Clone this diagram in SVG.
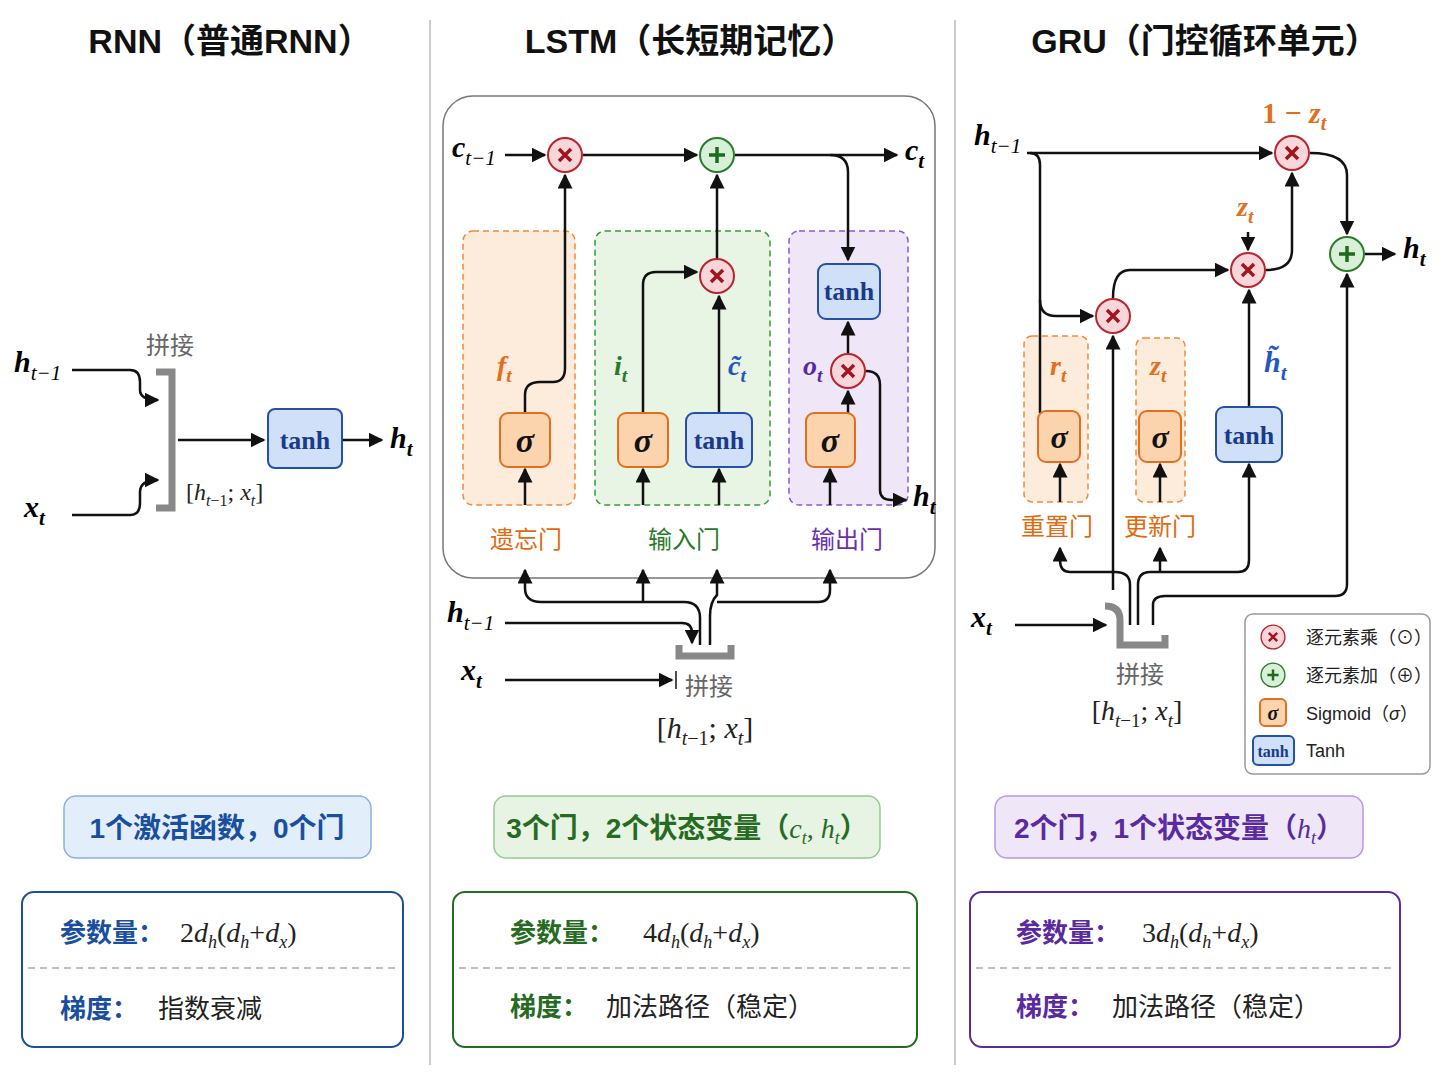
<svg xmlns="http://www.w3.org/2000/svg" width="1448" height="1086" viewBox="0 0 1448 1086">
<defs>
<marker id="ah" viewBox="0 0 10 10" refX="9" refY="5" markerWidth="6" markerHeight="6" orient="auto-start-reverse"><path d="M0,0 L10,5 L0,10 z" fill="#111"/></marker>
<g id="mul"><circle r="17" fill="#f9d6da" stroke="#b8252e" stroke-width="2"/><path d="M-6,-6 L6,6 M6,-6 L-6,6" stroke="#a0151e" stroke-width="3.5"/></g>
<g id="add"><circle r="17" fill="#d9f0d8" stroke="#2b7d2b" stroke-width="2"/><path d="M-8,0 L8,0 M0,-8 L0,8" stroke="#1d6b1d" stroke-width="3.5"/></g>
</defs>
<style>
.t{font-family:"Liberation Sans","Noto Sans CJK SC",sans-serif}
.title{font-family:"Liberation Sans","Noto Sans CJK SC",sans-serif;font-weight:bold;font-size:34px;fill:#111;text-anchor:middle}
.m{font-family:"Liberation Serif",serif;font-style:italic;font-weight:bold}
.ln{fill:none;stroke:#111;stroke-width:2.5}
.arr{fill:none;stroke:#111;stroke-width:2.5;marker-end:url(#ah)}
.sig{fill:#fbd3ac;stroke:#e07020;stroke-width:2}
.th{fill:#cfe0f8;stroke:#2450a8;stroke-width:2}
.bt{font-family:"Liberation Serif",serif;font-weight:bold;fill:#111;text-anchor:middle}
.gr{fill:none;stroke:#888;stroke-width:7}
.cn{font-family:"Noto Sans CJK SC",sans-serif;font-size:24px;text-anchor:middle}
.sub{font-size:70%}
.dO{fill:#fdebdc;stroke:#f08a3a;stroke-width:1.5;stroke-dasharray:6 4}
</style>
<rect width="1448" height="1086" fill="#fff"/>
<line x1="430" y1="20" x2="430" y2="1065" stroke="#bbb" stroke-width="1.5"/>
<line x1="955" y1="20" x2="955" y2="1065" stroke="#bbb" stroke-width="1.5"/>
<text class="title" x="230" y="53">RNN（普通RNN）</text>
<text class="title" x="690" y="53">LSTM（长短期记忆）</text>
<text class="title" x="1205" y="53">GRU（门控循环单元）</text>

<g id="lstm-frame"><rect x="443" y="96" width="492" height="482" rx="30" fill="none" stroke="#777" stroke-width="1.5"/></g>
<g id="gate-areas">
<rect class="dO" x="463" y="231" width="112" height="274" rx="10"/>
<rect x="595" y="231" width="175" height="274" rx="10" fill="#e8f4e4" stroke="#3a9a3a" stroke-width="1.5" stroke-dasharray="6 4"/>
<rect x="789" y="231" width="119" height="274" rx="10" fill="#efe7f8" stroke="#8a5ad0" stroke-width="1.5" stroke-dasharray="6 4"/>
<rect class="dO" x="1024" y="336" width="64" height="166" rx="8"/>
<rect class="dO" x="1136" y="338" width="49" height="164" rx="8"/>
</g>

<g id="connectors">
<path class="arr" d="M72,370 L130,370 Q140,370 140,382 L140,390 Q140,400 158,400"/>
<path class="arr" d="M72,515 L130,515 Q140,515 140,503 L140,492 Q140,480 158,480"/>
<path class="arr" d="M178,440 L264,440"/>
<path class="arr" d="M342,440 L382,440"/>
<path class="arr" d="M505,155 L545,155"/>
<path class="arr" d="M583,155 L697,155"/>
<path class="arr" d="M735,155 L897,155"/>
<path class="arr" d="M830,155 Q848,155 848,172 L848,260"/>
<path class="arr" d="M525,413 L525,395 Q525,382 540,382 L553,382 Q565,382 565,368 L565,175"/>
<path class="arr" d="M643,413 L643,285 Q643,272 656,272 L697,272"/>
<path class="arr" d="M719,413 L719,296"/>
<path class="arr" d="M717,258 L717,175"/>
<path class="arr" d="M848,413 L848,391"/>
<path class="arr" d="M848,354 L848,322"/>
<path class="arr" d="M866,371 Q880,371 880,385 L880,490 Q880,500 892,500 L906,500"/>
<path class="arr" d="M525,505 L525,469"/>
<path class="arr" d="M643,505 L643,469"/>
<path class="arr" d="M719,505 L719,469"/>
<path class="arr" d="M830,505 L830,469"/>
<path class="arr" d="M700,645 L700,618 Q700,602 684,602 L541,602 Q525,602 525,588 L525,570"/>
<path class="arr" d="M643,602 L643,570"/>
<path class="arr" d="M710,645 L710,616 Q710,602 717,595 L717,570"/>
<path class="arr" d="M717,602 L818,602 Q830,602 830,590 L830,570"/>
<path class="arr" d="M505,623 L682,623 Q692,623 692,633 L692,643"/>
<path class="arr" d="M505,680 L672,680"/>
<line x1="676" y1="671" x2="676" y2="689" stroke="#111" stroke-width="1.5"/>
<path class="gr" d="M679,645 L679,656 L731,656 L731,645"/>
<path class="arr" d="M1027,153 L1272,153"/>
<path class="ln" d="M1030,153 Q1040,153 1040,165 L1040,413"/>
<path class="arr" d="M1040,300 Q1040,316 1056,316 L1093,316"/>
<path class="arr" d="M1113,590 L1113,336"/>
<path class="arr" d="M1113,298 Q1113,270 1130,270 L1228,270"/>
<path class="arr" d="M1248,232 L1248,250"/>
<path class="arr" d="M1249,407 L1249,290"/>
<path class="arr" d="M1266,270 Q1292,270 1292,250 L1292,173"/>
<path class="arr" d="M1310,153 Q1347,153 1347,175 L1347,234"/>
<path class="arr" d="M1365,254 L1395,254"/>
<path class="arr" d="M1153,625 L1153,605 Q1153,596 1165,596 L1335,596 Q1347,596 1347,584 L1347,274"/>
<path class="arr" d="M1130,625 L1130,585 Q1130,572 1115,572 L1070,572 Q1060,572 1060,560 L1060,548"/>
<path class="arr" d="M1138,625 L1138,585 Q1138,572 1150,572 L1238,572 Q1249,572 1249,560 L1249,464"/>
<path class="arr" d="M1160,572 L1160,548"/>
<path class="arr" d="M1060,502 L1060,464"/>
<path class="arr" d="M1160,502 L1160,464"/>
<path class="arr" d="M1015,625 L1106,625"/>
<path class="gr" d="M1105,606 Q1120,606 1120,620 L1120,645 L1165,645 L1165,635"/>
</g>

<g id="rnn-concat"><path class="gr" d="M156,372 L172,372 L172,508 L156,508"/><text class="cn" x="170" y="354" font-size="20" fill="#666">拼接</text></g>
<g id="rnn-tanh"><rect class="th" x="268" y="409" width="74" height="59" rx="7"/><text class="bt" x="305" y="449" font-size="26" style="fill:#1a3a8a">tanh</text></g>
<text class="m" x="14" y="372" font-size="30">h<tspan class="sub" dy="8" font-weight="normal">t−1</tspan></text>
<text class="m" x="24" y="517" font-size="30">x<tspan class="sub" dy="8">t</tspan></text>
<text class="m" x="390" y="448" font-size="30">h<tspan class="sub" dy="8">t</tspan></text>
<text x="186" y="500" font-family="Liberation Serif,serif" font-size="24" fill="#222">[<tspan font-style="italic">h</tspan><tspan font-size="16" dy="6" font-style="italic">t</tspan><tspan font-size="16">−1</tspan><tspan dy="-6">; </tspan><tspan font-style="italic">x</tspan><tspan font-size="16" dy="6" font-style="italic">t</tspan><tspan dy="-6">]</tspan></text>

<g id="lstm-forget"><rect class="sig" x="500" y="413" width="50" height="54" rx="8"/><text class="bt" x="525" y="452" font-size="34" font-style="italic">σ</text><text class="m" x="497" y="375" font-size="28" style="fill:#e07020">f<tspan class="sub" dy="7">t</tspan></text><text class="cn" x="526" y="548" fill="#e06a10">遗忘门</text></g>
<g id="lstm-input"><rect class="sig" x="618" y="413" width="50" height="54" rx="8"/><text class="bt" x="643" y="452" font-size="34" font-style="italic">σ</text><rect class="th" x="686" y="413" width="66" height="54" rx="8"/><text class="bt" x="719" y="449" font-size="26" style="fill:#1a3a8a">tanh</text><text class="m" x="614" y="375" font-size="28" style="fill:#2a7a2a">i<tspan class="sub" dy="7">t</tspan></text><text class="m" x="728" y="375" font-size="28" style="fill:#2458c0">c̃<tspan class="sub" dy="7">t</tspan></text><text class="cn" x="684" y="548" fill="#2a7a2a">输入门</text></g>
<g id="lstm-output"><rect class="sig" x="806" y="413" width="49" height="54" rx="8"/><text class="bt" x="830" y="452" font-size="34" font-style="italic">σ</text><rect class="th" x="818" y="264" width="62" height="55" rx="8"/><text class="bt" x="849" y="300" font-size="26" style="fill:#1a3a8a">tanh</text><text class="m" x="803" y="375" font-size="28" style="fill:#5a2aa0">o<tspan class="sub" dy="7">t</tspan></text><text class="cn" x="847" y="548" fill="#6a30b0">输出门</text></g>
<g id="lstm-ops"><use href="#mul" x="565" y="155"/><use href="#add" x="717" y="155"/><use href="#mul" x="717" y="276"/><use href="#mul" x="848" y="371"/></g>
<text class="m" x="452" y="157" font-size="30">c<tspan class="sub" dy="8" font-weight="normal">t−1</tspan></text>
<text class="m" x="905" y="160" font-size="30">c<tspan class="sub" dy="8">t</tspan></text>
<text class="m" x="913" y="506" font-size="30">h<tspan class="sub" dy="8">t</tspan></text>
<text class="m" x="447" y="622" font-size="30">h<tspan class="sub" dy="8" font-weight="normal">t−1</tspan></text>
<text class="m" x="461" y="680" font-size="30">x<tspan class="sub" dy="8">t</tspan></text>
<text class="cn" x="709" y="695" font-size="20" fill="#666">拼接</text>
<text x="705" y="738" text-anchor="middle" font-family="Liberation Serif,serif" font-size="30" fill="#222">[<tspan font-style="italic">h</tspan><tspan font-size="20" dy="7" font-style="italic">t</tspan><tspan font-size="20">−1</tspan><tspan dy="-7">; </tspan><tspan font-style="italic">x</tspan><tspan font-size="20" dy="7" font-style="italic">t</tspan><tspan dy="-7">]</tspan></text>

<g id="gru-reset"><rect class="sig" x="1038" y="411" width="42" height="51" rx="8"/><text class="bt" x="1059" y="448" font-size="32" font-style="italic">σ</text><text class="m" x="1050" y="375" font-size="28" style="fill:#e07020">r<tspan class="sub" dy="7">t</tspan></text><text class="cn" x="1057" y="535" fill="#e06a10">重置门</text></g>
<g id="gru-update"><rect class="sig" x="1139" y="411" width="42" height="51" rx="8"/><text class="bt" x="1160" y="448" font-size="32" font-style="italic">σ</text><text class="m" x="1150" y="375" font-size="28" style="fill:#e07020">z<tspan class="sub" dy="7">t</tspan></text><text class="cn" x="1160" y="535" fill="#e06a10">更新门</text></g>
<g id="gru-tanh"><rect class="th" x="1216" y="407" width="66" height="55" rx="8"/><text class="bt" x="1249" y="444" font-size="26" style="fill:#1a3a8a">tanh</text><text class="m" x="1264" y="372" font-size="30" style="fill:#2458c0">h̃<tspan class="sub" dy="8">t</tspan></text></g>
<g id="gru-ops"><use href="#mul" x="1113" y="316"/><use href="#mul" x="1248" y="270"/><use href="#mul" x="1292" y="153"/><use href="#add" x="1347" y="254"/></g>
<text class="m" x="1237" y="216" font-size="28" style="fill:#e07020">z<tspan class="sub" dy="7">t</tspan></text>
<text x="1262" y="123" font-family="Liberation Serif,serif" font-weight="bold" font-size="30" fill="#e07020">1 − <tspan font-style="italic">z</tspan><tspan font-size="20" dy="7" font-style="italic">t</tspan></text>
<text class="m" x="974" y="145" font-size="30">h<tspan class="sub" dy="8" font-weight="normal">t−1</tspan></text>
<text class="m" x="1403" y="258" font-size="30">h<tspan class="sub" dy="8">t</tspan></text>
<text class="m" x="971" y="627" font-size="30">x<tspan class="sub" dy="8">t</tspan></text>
<text class="cn" x="1140" y="683" font-size="20" fill="#666">拼接</text>
<text x="1137" y="720" text-anchor="middle" font-family="Liberation Serif,serif" font-size="28" fill="#222">[<tspan font-style="italic">h</tspan><tspan font-size="19" dy="7" font-style="italic">t</tspan><tspan font-size="19">−1</tspan><tspan dy="-7">; </tspan><tspan font-style="italic">x</tspan><tspan font-size="19" dy="7" font-style="italic">t</tspan><tspan dy="-7">]</tspan></text>
<g id="legend"><rect x="1245" y="614" width="185" height="160" rx="8" fill="#fff" stroke="#999" stroke-width="1.5"/>
<g transform="translate(1273,637) scale(0.7)"><use href="#mul"/></g><text class="t" x="1306" y="644" font-size="18" fill="#222">逐元素乘（⊙）</text>
<g transform="translate(1273,675) scale(0.7)"><use href="#add"/></g><text class="t" x="1306" y="682" font-size="18" fill="#222">逐元素加（⊕）</text>
<rect class="sig" x="1260" y="699" width="26" height="27" rx="5"/><text class="bt" x="1273" y="720" font-size="20" font-style="italic">σ</text><text class="t" x="1306" y="720" font-size="18" fill="#222">Sigmoid（<tspan font-style="italic">σ</tspan>）</text>
<rect class="th" x="1253" y="736" width="41" height="29" rx="5"/><text class="bt" x="1273" y="757" font-size="16" style="fill:#1a3a8a">tanh</text><text class="t" x="1306" y="757" font-size="18" fill="#222">Tanh</text></g>

<g id="rnn-summary"><rect x="64" y="796" width="307" height="62" rx="12" fill="#e3eefb" stroke="#8aaee6" stroke-width="1.5"/><text class="t" x="217" y="838" font-size="28" font-weight="bold" fill="#1a4fa0" text-anchor="middle">1个激活函数，0个门</text></g>
<g id="lstm-summary"><rect x="494" y="796" width="386" height="62" rx="12" fill="#e7f4e4" stroke="#93cc8e" stroke-width="1.5"/><text class="t" x="687" y="838" font-size="28" font-weight="bold" fill="#256b22" text-anchor="middle">3个门，2个状态变量（<tspan font-family="Liberation Serif,serif" font-style="italic" font-weight="normal">c</tspan><tspan font-family="Liberation Serif,serif" font-style="italic" font-weight="normal" font-size="18" dy="6">t</tspan><tspan font-family="Liberation Serif,serif" font-weight="normal" dy="-6">, </tspan><tspan font-family="Liberation Serif,serif" font-style="italic" font-weight="normal">h</tspan><tspan font-family="Liberation Serif,serif" font-style="italic" font-weight="normal" font-size="18" dy="6">t</tspan><tspan dy="-6">）</tspan></text></g>
<g id="gru-summary"><rect x="995" y="796" width="368" height="62" rx="12" fill="#efe6f8" stroke="#b79ade" stroke-width="1.5"/><text class="t" x="1179" y="838" font-size="28" font-weight="bold" fill="#5a2aa0" text-anchor="middle">2个门，1个状态变量（<tspan font-family="Liberation Serif,serif" font-style="italic" font-weight="normal">h</tspan><tspan font-family="Liberation Serif,serif" font-style="italic" font-weight="normal" font-size="18" dy="6">t</tspan><tspan dy="-6">）</tspan></text></g>

<g id="rnn-params"><rect x="22" y="892" width="381" height="155" rx="12" fill="#fff" stroke="#1a4fa0" stroke-width="2"/><line x1="28" y1="968" x2="398" y2="968" stroke="#aaa" stroke-width="1.5" stroke-dasharray="7 5"/>
<text class="t" x="60" y="942" font-size="26" font-weight="bold" fill="#1a4fa0">参数量：</text><text x="180" y="942" font-family="Liberation Serif,serif" font-size="28" fill="#222">2<tspan font-style="italic">d</tspan><tspan font-style="italic" font-size="18" dy="6">h</tspan><tspan dy="-6">(</tspan><tspan font-style="italic">d</tspan><tspan font-style="italic" font-size="18" dy="6">h</tspan><tspan dy="-6">+</tspan><tspan font-style="italic">d</tspan><tspan font-style="italic" font-size="18" dy="6">x</tspan><tspan dy="-6">)</tspan></text>
<text class="t" x="60" y="1018" font-size="26" font-weight="bold" fill="#1a4fa0">梯度：</text><text class="t" x="158" y="1018" font-size="26" fill="#222">指数衰减</text></g>
<g id="lstm-params"><rect x="453" y="892" width="464" height="155" rx="12" fill="#fff" stroke="#256b22" stroke-width="2"/><line x1="459" y1="968" x2="911" y2="968" stroke="#aaa" stroke-width="1.5" stroke-dasharray="7 5"/>
<text class="t" x="510" y="942" font-size="26" font-weight="bold" fill="#256b22">参数量：</text><text x="643" y="942" font-family="Liberation Serif,serif" font-size="28" fill="#222">4<tspan font-style="italic">d</tspan><tspan font-style="italic" font-size="18" dy="6">h</tspan><tspan dy="-6">(</tspan><tspan font-style="italic">d</tspan><tspan font-style="italic" font-size="18" dy="6">h</tspan><tspan dy="-6">+</tspan><tspan font-style="italic">d</tspan><tspan font-style="italic" font-size="18" dy="6">x</tspan><tspan dy="-6">)</tspan></text>
<text class="t" x="510" y="1016" font-size="26" font-weight="bold" fill="#256b22">梯度：</text><text class="t" x="606" y="1016" font-size="26" fill="#222">加法路径（稳定）</text></g>
<g id="gru-params"><rect x="970" y="892" width="430" height="155" rx="12" fill="#fff" stroke="#5a2aa0" stroke-width="2"/><line x1="976" y1="968" x2="1394" y2="968" stroke="#aaa" stroke-width="1.5" stroke-dasharray="7 5"/>
<text class="t" x="1016" y="942" font-size="26" font-weight="bold" fill="#5a2aa0">参数量：</text><text x="1142" y="942" font-family="Liberation Serif,serif" font-size="28" fill="#222">3<tspan font-style="italic">d</tspan><tspan font-style="italic" font-size="18" dy="6">h</tspan><tspan dy="-6">(</tspan><tspan font-style="italic">d</tspan><tspan font-style="italic" font-size="18" dy="6">h</tspan><tspan dy="-6">+</tspan><tspan font-style="italic">d</tspan><tspan font-style="italic" font-size="18" dy="6">x</tspan><tspan dy="-6">)</tspan></text>
<text class="t" x="1016" y="1016" font-size="26" font-weight="bold" fill="#5a2aa0">梯度：</text><text class="t" x="1112" y="1016" font-size="26" fill="#222">加法路径（稳定）</text></g>
</svg>
